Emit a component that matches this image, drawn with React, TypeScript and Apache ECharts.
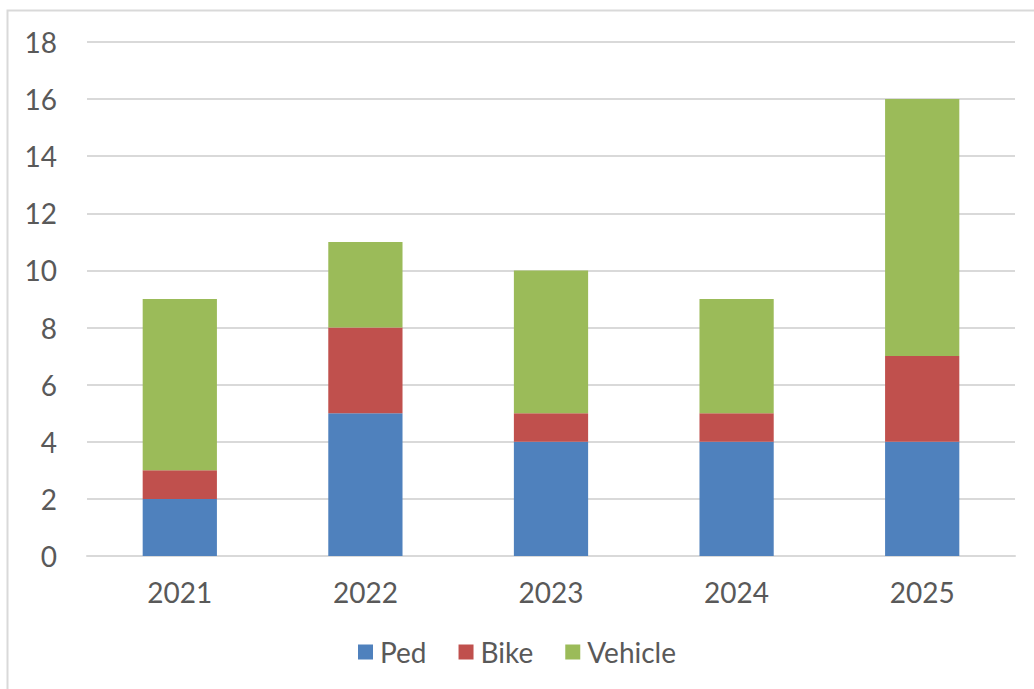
import React, { useEffect, useRef } from "react";
import * as echarts from "echarts";

const categories = ["2021", "2022", "2023", "2024", "2025"];
const ped = [2, 5, 4, 4, 4];
const bike = [1, 3, 1, 1, 3];
const vehicle = [6, 3, 5, 4, 9];
const seriesNames = ["Ped", "Bike", "Vehicle"];
const colors = ["#4F81BD", "#C0504D", "#9BBB59"];

export default function App() {
  const ref = useRef<HTMLDivElement>(null);
  useEffect(() => {
    const chart = echarts.init(ref.current!, null, { renderer: "svg" });
    const font = "Lato, 'Open Sans', sans-serif";
    const data = [ped, bike, vehicle];
    chart.setOption({
      animation: false,
      backgroundColor: "#ffffff",
      graphic: [
        {
          type: "rect",
          shape: { x: 7.5, y: 10.5, width: 1040, height: 700 },
          style: { fill: "none", stroke: "#d9d9d9", lineWidth: 2 },
          silent: true,
        },
      ],
      grid: { left: 87, right: 19, top: 42, bottom: 133, containLabel: false },
      legend: {
        data: seriesNames,
        bottom: 18,
        left: "center",
        itemWidth: 15,
        itemHeight: 15,
        itemGap: 32,
        icon: "rect",
        textStyle: { color: "#595959", fontSize: 28, fontFamily: font, padding: [0, 0, 0, 2] },
      },
      xAxis: {
        type: "category",
        data: categories,
        axisLine: { lineStyle: { color: "#d9d9d9", width: 2 } },
        axisTick: { show: false },
        axisLabel: { color: "#595959", fontSize: 28, fontFamily: font, margin: 22 },
      },
      yAxis: {
        type: "value",
        min: 0,
        max: 18,
        interval: 2,
        axisLine: { show: false },
        axisTick: { show: false },
        splitLine: { lineStyle: { color: "#d9d9d9", width: 2 } },
        axisLabel: { color: "#595959", fontSize: 28, fontFamily: font, margin: 30 },
      },
      series: seriesNames.map((name, i) => ({
        name,
        type: "bar",
        stack: "total",
        data: data[i],
        barWidth: "40%",
        itemStyle: { color: colors[i] },
      })),
    });
    return () => chart.dispose();
  }, []);
  return (
    <div
      ref={ref}
      style={{ position: "absolute", left: 0, top: 0, width: 1034, height: 689 }}
    />
  );
}
